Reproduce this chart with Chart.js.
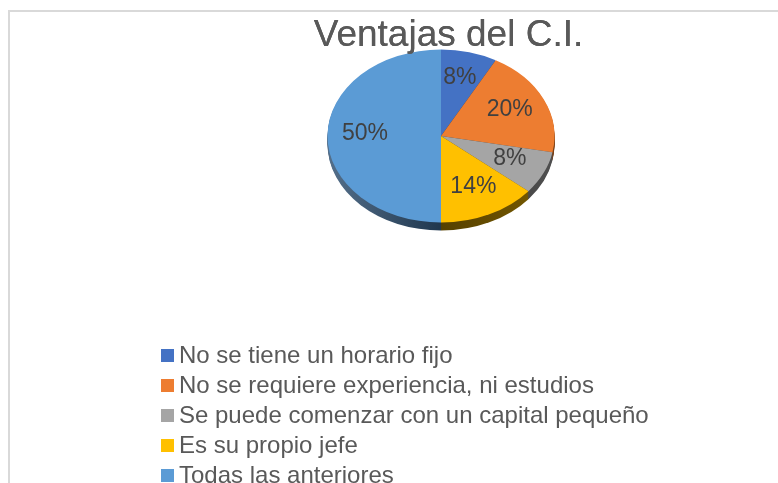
<!DOCTYPE html>
<html lang="es">
<head>
  <meta charset="UTF-8">
  <title>Ventajas del C.I.</title>
  <script src="https://cdn.jsdelivr.net/npm/chart.js"></script>
  <style>
    html,
    body {
      margin: 0;
      padding: 0;
      background: #fff;
      overflow: hidden;
    }
  </style>
</head>
<body>
  <canvas id="ventajasChart" width="778" height="483"></canvas>

  <script>
    // Datos
    const categorias = [
      'No se tiene un horario fijo',
      'No se requiere experiencia, ni estudios',
      'Se puede comenzar con un capital pequeño',
      'Es su propio jefe',
      'Todas las anteriores'
    ];
    const respuestas = [4, 10, 4, 7, 25];

    const colores = ['#4472C4', '#ED7D31', '#A5A5A5', '#FFC000', '#5B9BD5'];
    const coloresLado = ['#233B66', '#7A3F15', '#4F4F4F', '#7A5C00', '#2E4F70'];

    const FONT = "'Liberation Sans', Arial, sans-serif";
    Chart.defaults.font.family = FONT;

    // pie drawn as a tilted ellipse (Excel 3D look)
    const pieCenter = { x: 441, y: 136 };
    const pieRadius = { x: 113.5, y: 86.5 };
    const depth = 8;

    function mix(hex, target, t) {
      const n = parseInt(hex.slice(1), 16);
      const c = [(n >> 16) & 255, (n >> 8) & 255, n & 255];
      const m = c.map(v => Math.round(v + (target - v) * t));
      return 'rgb(' + m.join(',') + ')';
    }

    function applyTilt(ctx, arc, offset) {
      const sx = pieRadius.x / arc.outerRadius;
      const sy = pieRadius.y / arc.outerRadius;
      ctx.translate(pieCenter.x, pieCenter.y + offset);
      ctx.scale(sx, sy);
      ctx.translate(-arc.x, -arc.y);
    }

    function toScreen(arc, px, py) {
      return {
        x: pieCenter.x + (px - arc.x) * pieRadius.x / arc.outerRadius,
        y: pieCenter.y + (py - arc.y) * pieRadius.y / arc.outerRadius
      };
    }

    const pie3d = {
      id: 'pie3d',
      beforeDraw(chart) {
        const ctx = chart.ctx;
        ctx.save();
        ctx.fillStyle = '#D9D9D9';
        ctx.fillRect(8, 10, 778 - 8, 2);
        ctx.fillRect(8, 10, 2, 483 - 10);
        ctx.restore();
      },
      beforeDatasetsDraw(chart) {
        const ctx = chart.ctx;
        const arcs = chart.getDatasetMeta(0).data;
        const first = arcs[0];
        // side of the pie, lighter on the left like Excel's lighting
        for (let off = depth; off >= 1; off--) {
          ctx.save();
          applyTilt(ctx, first, off);
          arcs.forEach((a, i) => {
            const g = ctx.createLinearGradient(a.x - a.outerRadius, 0, a.x + a.outerRadius, 0);
            g.addColorStop(0, mix(coloresLado[i], 255, 0.18));
            g.addColorStop(0.5, mix(coloresLado[i], 0, 0.3));
            g.addColorStop(1, coloresLado[i]);
            ctx.beginPath();
            ctx.moveTo(a.x, a.y);
            ctx.arc(a.x, a.y, a.outerRadius, a.startAngle, a.endAngle);
            ctx.closePath();
            ctx.fillStyle = g;
            ctx.fill();
          });
          ctx.restore();
        }
        ctx.save();
        applyTilt(ctx, first, 0);
      },
      afterDatasetsDraw(chart) {
        const ctx = chart.ctx;
        ctx.restore();
        const arcs = chart.getDatasetMeta(0).data;
        const total = respuestas.reduce((s, v) => s + v, 0);

        ctx.save();
        ctx.font = '23px ' + FONT;
        ctx.fillStyle = '#404040';
        ctx.textAlign = 'center';
        ctx.textBaseline = 'middle';
        arcs.forEach((a, i) => {
          const mid = (a.startAngle + a.endAngle) / 2;
          const r = a.outerRadius * 0.67;
          const p = toScreen(a, a.x + Math.cos(mid) * r, a.y + Math.sin(mid) * r);
          ctx.fillText(Math.round(respuestas[i] / total * 100) + '%', p.x, p.y - 2);
        });
        ctx.restore();

        // title sits on top of the pie
        if (chart.titleBlock) chart.titleBlock.draw();
      },
      afterDraw(chart) {
        const ctx = chart.ctx;
        ctx.save();
        ctx.font = '24px ' + FONT;
        ctx.textBaseline = 'alphabetic';
        ctx.textAlign = 'left';
        categorias.forEach((c, i) => {
          ctx.fillStyle = colores[i];
          ctx.fillRect(161, 349 + 30 * i, 13, 13);
          ctx.fillStyle = '#595959';
          ctx.fillText(c, 179, 363 + 30 * i);
        });
        ctx.restore();
      }
    };

    new Chart(document.getElementById('ventajasChart'), {
      type: 'pie',
      data: {
        labels: categorias,
        datasets: [{
          data: respuestas,
          backgroundColor: colores,
          borderWidth: 0
        }]
      },
      options: {
        responsive: false,
        animation: false,
        events: [],
        layout: {
          padding: { left: 119, right: 0, top: 0, bottom: 200 }
        },
        plugins: {
          legend: { display: false },
          tooltip: { enabled: false },
          title: {
            display: true,
            text: 'Ventajas del C.I.',
            color: '#595959',
            font: { size: 37, weight: 'normal', family: FONT },
            padding: { top: 14, bottom: 0 }
          }
        }
      },
      plugins: [pie3d]
    });
  </script>
</body>
</html>
